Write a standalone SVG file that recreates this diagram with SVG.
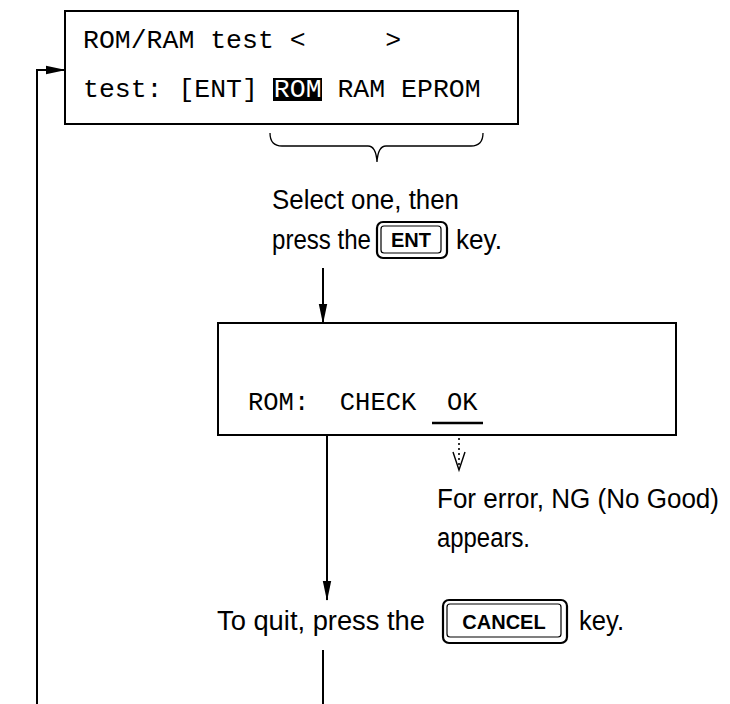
<svg xmlns="http://www.w3.org/2000/svg" width="730" height="704" viewBox="0 0 730 704">
<defs>
<marker id="arr" markerWidth="20" markerHeight="10" refX="19" refY="5" orient="auto" markerUnits="userSpaceOnUse">
<path d="M0,0.8 L20,5 L0,9.2 Z" fill="#000"/>
</marker>
</defs>
<style>
.box{fill:#fff;stroke:#000;stroke-width:2}
.mono{font-family:"Liberation Mono","Courier New",monospace;fill:#000;white-space:pre}
.sans{font-family:"Liberation Sans",Arial,sans-serif;font-size:27px;fill:#000}
.keyt{font-family:"Liberation Sans",Arial,sans-serif;font-size:20px;font-weight:bold;fill:#000;text-anchor:middle}
.ln{fill:none;stroke:#000;stroke-width:2}
.keyo{fill:#fff;stroke:#000;stroke-width:2.2}
.keyi{fill:none;stroke:#000;stroke-width:1.2}
</style>
<rect width="730" height="704" fill="#fff"/>
<g id="connectors">
<path class="ln" d="M37,704 L37,70 L65,70" marker-end="url(#arr)"/>
<path class="ln" d="M323,268 L323,323" marker-end="url(#arr)"/>
<path class="ln" d="M327,435 L327,600" marker-end="url(#arr)"/>
<path class="ln" d="M323,650 L323,704"/>
<path fill="none" stroke="#000" stroke-width="1.3" d="M270,133 Q270,146 282,146 L368,146 Q376,146 377,162 Q378,146 386,146 L471,146 Q483,146 483,133"/>
<path fill="none" stroke="#000" stroke-width="1.6" stroke-dasharray="2,3" d="M459,428 L459,466"/>
<path fill="none" stroke="#000" stroke-width="1.4" d="M453,452 L459,470 L465,452"/>
</g>
<g id="menu-screen">
<rect class="box" x="65" y="11" width="453" height="113"/>
<text class="mono" x="83" y="48" font-size="26.5">ROM/RAM test &lt;     &gt;</text>
<rect x="273" y="78" width="49" height="23" fill="#000"/>
<text class="mono" x="83" y="97" font-size="26.5">test: [ENT] <tspan fill="#fff">ROM</tspan> RAM EPROM</text>
</g>
<g id="select-note">
<text class="sans" x="272" y="209" textLength="187" lengthAdjust="spacingAndGlyphs">Select one, then</text>
<text class="sans" x="272" y="249" textLength="99" lengthAdjust="spacingAndGlyphs">press the</text>
<rect class="keyo" x="377" y="222" width="70" height="36" rx="6"/>
<rect class="keyi" x="381" y="226" width="60" height="27" rx="3"/>
<text class="keyt" x="411" y="247">ENT</text>
<text class="sans" x="456" y="249" textLength="46" lengthAdjust="spacingAndGlyphs">key.</text>
</g>
<g id="check-screen">
<rect class="box" x="218" y="323" width="458" height="112"/>
<text class="mono" x="248" y="410" font-size="25.5">ROM:  CHECK  OK</text>
<line x1="432" y1="423" x2="483" y2="423" stroke="#000" stroke-width="2.5"/>
</g>
<g id="error-note">
<text class="sans" x="437" y="508" textLength="282" lengthAdjust="spacingAndGlyphs">For error, NG (No Good)</text>
<text class="sans" x="437" y="547" textLength="93" lengthAdjust="spacingAndGlyphs">appears.</text>
</g>
<g id="quit-note">
<text class="sans" x="217" y="630" textLength="208" lengthAdjust="spacingAndGlyphs">To quit, press the</text>
<rect class="keyo" x="443" y="600" width="124" height="43" rx="6"/>
<rect class="keyi" x="447" y="604" width="114" height="33" rx="3"/>
<text class="keyt" x="504" y="629">CANCEL</text>
<text class="sans" x="579" y="630" textLength="45" lengthAdjust="spacingAndGlyphs">key.</text>
</g>
</svg>
